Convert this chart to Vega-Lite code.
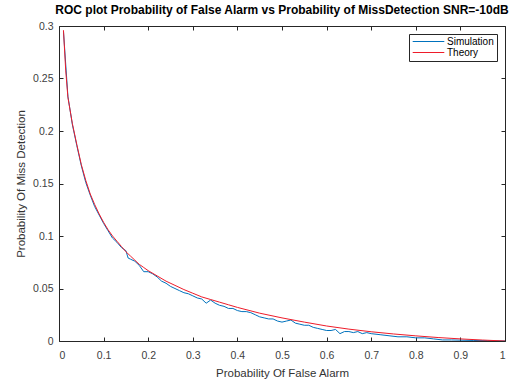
{
  "$schema": "https://vega.github.io/schema/vega-lite/v6.json",
  "autosize": {"type": "none"},
  "padding": {"left": 59, "top": 26, "right": 19, "bottom": 39},
  "width": 446,
  "height": 315,
  "background": "white",
  "config": {
    "font": "Liberation Sans",
    "view": {"stroke": "#262626", "strokeWidth": 1},
    "axis": {"grid": false, "domain": false, "tickColor": "#262626", "tickSize": 4, "tickWidth": 1, "offset": -4, "labelColor": "#404040", "labelFontSize": 10.5, "titleColor": "#333333", "titleFontSize": 11.5, "titleFontWeight": "normal"}
  },
  "title": {"text": "ROC plot Probability of False Alarm vs Probability of MissDetection SNR=-10dB", "fontSize": 12, "fontWeight": "bold", "color": "#000000", "offset": 4, "anchor": "middle"},
  "data": {"values": [
    {"pfa": 0.01, "pmd": 0.295, "series": "Simulation"},
    {"pfa": 0.02, "pmd": 0.233, "series": "Simulation"},
    {"pfa": 0.03, "pmd": 0.206, "series": "Simulation"},
    {"pfa": 0.04, "pmd": 0.186, "series": "Simulation"},
    {"pfa": 0.05, "pmd": 0.167, "series": "Simulation"},
    {"pfa": 0.06, "pmd": 0.151, "series": "Simulation"},
    {"pfa": 0.07, "pmd": 0.139, "series": "Simulation"},
    {"pfa": 0.08, "pmd": 0.128, "series": "Simulation"},
    {"pfa": 0.09, "pmd": 0.12, "series": "Simulation"},
    {"pfa": 0.1, "pmd": 0.112, "series": "Simulation"},
    {"pfa": 0.11, "pmd": 0.105, "series": "Simulation"},
    {"pfa": 0.12, "pmd": 0.098, "series": "Simulation"},
    {"pfa": 0.13, "pmd": 0.094, "series": "Simulation"},
    {"pfa": 0.14, "pmd": 0.089, "series": "Simulation"},
    {"pfa": 0.15, "pmd": 0.086, "series": "Simulation"},
    {"pfa": 0.155, "pmd": 0.079, "series": "Simulation"},
    {"pfa": 0.16, "pmd": 0.078, "series": "Simulation"},
    {"pfa": 0.17, "pmd": 0.076, "series": "Simulation"},
    {"pfa": 0.18, "pmd": 0.072, "series": "Simulation"},
    {"pfa": 0.19, "pmd": 0.066, "series": "Simulation"},
    {"pfa": 0.2, "pmd": 0.066, "series": "Simulation"},
    {"pfa": 0.21, "pmd": 0.064, "series": "Simulation"},
    {"pfa": 0.22, "pmd": 0.061, "series": "Simulation"},
    {"pfa": 0.23, "pmd": 0.057, "series": "Simulation"},
    {"pfa": 0.24, "pmd": 0.055, "series": "Simulation"},
    {"pfa": 0.25, "pmd": 0.052, "series": "Simulation"},
    {"pfa": 0.26, "pmd": 0.05, "series": "Simulation"},
    {"pfa": 0.27, "pmd": 0.048, "series": "Simulation"},
    {"pfa": 0.28, "pmd": 0.046, "series": "Simulation"},
    {"pfa": 0.29, "pmd": 0.045, "series": "Simulation"},
    {"pfa": 0.3, "pmd": 0.043, "series": "Simulation"},
    {"pfa": 0.31, "pmd": 0.041, "series": "Simulation"},
    {"pfa": 0.32, "pmd": 0.04, "series": "Simulation"},
    {"pfa": 0.33, "pmd": 0.036, "series": "Simulation"},
    {"pfa": 0.34, "pmd": 0.039, "series": "Simulation"},
    {"pfa": 0.35, "pmd": 0.036, "series": "Simulation"},
    {"pfa": 0.36, "pmd": 0.034, "series": "Simulation"},
    {"pfa": 0.37, "pmd": 0.033, "series": "Simulation"},
    {"pfa": 0.38, "pmd": 0.031, "series": "Simulation"},
    {"pfa": 0.39, "pmd": 0.031, "series": "Simulation"},
    {"pfa": 0.4, "pmd": 0.029, "series": "Simulation"},
    {"pfa": 0.41, "pmd": 0.028, "series": "Simulation"},
    {"pfa": 0.42, "pmd": 0.028, "series": "Simulation"},
    {"pfa": 0.43, "pmd": 0.027, "series": "Simulation"},
    {"pfa": 0.44, "pmd": 0.025, "series": "Simulation"},
    {"pfa": 0.45, "pmd": 0.023, "series": "Simulation"},
    {"pfa": 0.46, "pmd": 0.022, "series": "Simulation"},
    {"pfa": 0.47, "pmd": 0.021, "series": "Simulation"},
    {"pfa": 0.48, "pmd": 0.021, "series": "Simulation"},
    {"pfa": 0.49, "pmd": 0.019, "series": "Simulation"},
    {"pfa": 0.5, "pmd": 0.018, "series": "Simulation"},
    {"pfa": 0.51, "pmd": 0.019, "series": "Simulation"},
    {"pfa": 0.52, "pmd": 0.02, "series": "Simulation"},
    {"pfa": 0.53, "pmd": 0.017, "series": "Simulation"},
    {"pfa": 0.54, "pmd": 0.016, "series": "Simulation"},
    {"pfa": 0.55, "pmd": 0.015, "series": "Simulation"},
    {"pfa": 0.56, "pmd": 0.015, "series": "Simulation"},
    {"pfa": 0.57, "pmd": 0.013, "series": "Simulation"},
    {"pfa": 0.58, "pmd": 0.012, "series": "Simulation"},
    {"pfa": 0.59, "pmd": 0.011, "series": "Simulation"},
    {"pfa": 0.6, "pmd": 0.01, "series": "Simulation"},
    {"pfa": 0.61, "pmd": 0.01, "series": "Simulation"},
    {"pfa": 0.62, "pmd": 0.011, "series": "Simulation"},
    {"pfa": 0.63, "pmd": 0.007, "series": "Simulation"},
    {"pfa": 0.64, "pmd": 0.009, "series": "Simulation"},
    {"pfa": 0.65, "pmd": 0.009, "series": "Simulation"},
    {"pfa": 0.66, "pmd": 0.008, "series": "Simulation"},
    {"pfa": 0.67, "pmd": 0.009, "series": "Simulation"},
    {"pfa": 0.68, "pmd": 0.007, "series": "Simulation"},
    {"pfa": 0.69, "pmd": 0.008, "series": "Simulation"},
    {"pfa": 0.7, "pmd": 0.007, "series": "Simulation"},
    {"pfa": 0.72, "pmd": 0.006, "series": "Simulation"},
    {"pfa": 0.74, "pmd": 0.005, "series": "Simulation"},
    {"pfa": 0.76, "pmd": 0.004, "series": "Simulation"},
    {"pfa": 0.78, "pmd": 0.004, "series": "Simulation"},
    {"pfa": 0.8, "pmd": 0.003, "series": "Simulation"},
    {"pfa": 0.82, "pmd": 0.003, "series": "Simulation"},
    {"pfa": 0.84, "pmd": 0.002, "series": "Simulation"},
    {"pfa": 0.86, "pmd": 0.001, "series": "Simulation"},
    {"pfa": 0.88, "pmd": 0.001, "series": "Simulation"},
    {"pfa": 0.9, "pmd": 0.0008, "series": "Simulation"},
    {"pfa": 0.93, "pmd": 0.0005, "series": "Simulation"},
    {"pfa": 0.96, "pmd": 0.0003, "series": "Simulation"},
    {"pfa": 1.0, "pmd": 0.0, "series": "Simulation"},
    {"pfa": 0.01, "pmd": 0.296, "series": "Theory"},
    {"pfa": 0.015, "pmd": 0.258, "series": "Theory"},
    {"pfa": 0.02, "pmd": 0.232, "series": "Theory"},
    {"pfa": 0.03, "pmd": 0.207, "series": "Theory"},
    {"pfa": 0.04, "pmd": 0.187, "series": "Theory"},
    {"pfa": 0.05, "pmd": 0.168, "series": "Theory"},
    {"pfa": 0.06, "pmd": 0.153, "series": "Theory"},
    {"pfa": 0.07, "pmd": 0.14, "series": "Theory"},
    {"pfa": 0.08, "pmd": 0.13, "series": "Theory"},
    {"pfa": 0.09, "pmd": 0.121, "series": "Theory"},
    {"pfa": 0.1, "pmd": 0.113, "series": "Theory"},
    {"pfa": 0.11, "pmd": 0.106, "series": "Theory"},
    {"pfa": 0.12, "pmd": 0.1, "series": "Theory"},
    {"pfa": 0.13, "pmd": 0.095, "series": "Theory"},
    {"pfa": 0.14, "pmd": 0.09, "series": "Theory"},
    {"pfa": 0.15, "pmd": 0.085, "series": "Theory"},
    {"pfa": 0.16, "pmd": 0.081, "series": "Theory"},
    {"pfa": 0.17, "pmd": 0.077, "series": "Theory"},
    {"pfa": 0.18, "pmd": 0.073, "series": "Theory"},
    {"pfa": 0.19, "pmd": 0.07, "series": "Theory"},
    {"pfa": 0.2, "pmd": 0.067, "series": "Theory"},
    {"pfa": 0.22, "pmd": 0.062, "series": "Theory"},
    {"pfa": 0.24, "pmd": 0.057, "series": "Theory"},
    {"pfa": 0.26, "pmd": 0.053, "series": "Theory"},
    {"pfa": 0.28, "pmd": 0.049, "series": "Theory"},
    {"pfa": 0.3, "pmd": 0.0455, "series": "Theory"},
    {"pfa": 0.32, "pmd": 0.042, "series": "Theory"},
    {"pfa": 0.34, "pmd": 0.0395, "series": "Theory"},
    {"pfa": 0.36, "pmd": 0.037, "series": "Theory"},
    {"pfa": 0.38, "pmd": 0.0345, "series": "Theory"},
    {"pfa": 0.4, "pmd": 0.032, "series": "Theory"},
    {"pfa": 0.45, "pmd": 0.0265, "series": "Theory"},
    {"pfa": 0.5, "pmd": 0.022, "series": "Theory"},
    {"pfa": 0.55, "pmd": 0.018, "series": "Theory"},
    {"pfa": 0.6, "pmd": 0.0143, "series": "Theory"},
    {"pfa": 0.65, "pmd": 0.0113, "series": "Theory"},
    {"pfa": 0.7, "pmd": 0.0088, "series": "Theory"},
    {"pfa": 0.75, "pmd": 0.0067, "series": "Theory"},
    {"pfa": 0.8, "pmd": 0.0049, "series": "Theory"},
    {"pfa": 0.85, "pmd": 0.0033, "series": "Theory"},
    {"pfa": 0.9, "pmd": 0.002, "series": "Theory"},
    {"pfa": 0.95, "pmd": 0.0009, "series": "Theory"},
    {"pfa": 1.0, "pmd": 0.0, "series": "Theory"}
  ]},
  "layer": [
    {
      "mark": {"type": "line", "strokeWidth": 1, "clip": true},
      "encoding": {
        "x": {"field": "pfa", "type": "quantitative", "scale": {"domain": [0, 1], "nice": false, "zero": false},
              "axis": {"orient": "bottom", "values": [0, 0.1, 0.2, 0.3, 0.4, 0.5, 0.6, 0.7, 0.8, 0.9, 1], "format": ".1~f", "title": "Probability Of False Alarm", "labelPadding": 9, "titleX": 223, "titleY": 36, "titleBaseline": "middle"}},
        "y": {"field": "pmd", "type": "quantitative", "scale": {"domain": [0, 0.3], "nice": false, "zero": false},
              "axis": {"orient": "left", "values": [0, 0.05, 0.1, 0.15, 0.2, 0.25, 0.3], "format": ".2~f", "title": "Probability Of Miss Detection", "labelPadding": 6, "titleX": -42, "titleY": 157.5, "titleBaseline": "middle", "titleAngle": -90}},
        "color": {"field": "series", "type": "nominal",
                  "scale": {"domain": ["Simulation", "Theory"], "range": ["#0072BD", "#EE1C2A"]},
                  "legend": {"title": null, "orient": "top-right", "offset": 8, "symbolType": "stroke", "symbolSize": 1000, "symbolStrokeWidth": 1, "clipHeight": 9, "labelFontSize": 10, "labelColor": "#000000", "strokeColor": "#262626", "fillColor": "white", "padding": 3, "rowPadding": 0, "cornerRadius": 0, "labelOffset": 2}},
        "order": {"field": "pfa", "type": "quantitative"}
      }
    },
    {
      "mark": {"type": "line", "opacity": 0},
      "encoding": {
        "x": {"field": "pfa", "type": "quantitative", "axis": {"orient": "top", "values": [0, 0.1, 0.2, 0.3, 0.4, 0.5, 0.6, 0.7, 0.8, 0.9, 1], "labels": false, "title": null}},
        "y": {"field": "pmd", "type": "quantitative", "axis": {"orient": "right", "values": [0, 0.05, 0.1, 0.15, 0.2, 0.25, 0.3], "labels": false, "title": null}},
        "detail": {"field": "series", "type": "nominal"}
      }
    }
  ],
  "resolve": {"axis": {"x": "independent", "y": "independent"}}
}
